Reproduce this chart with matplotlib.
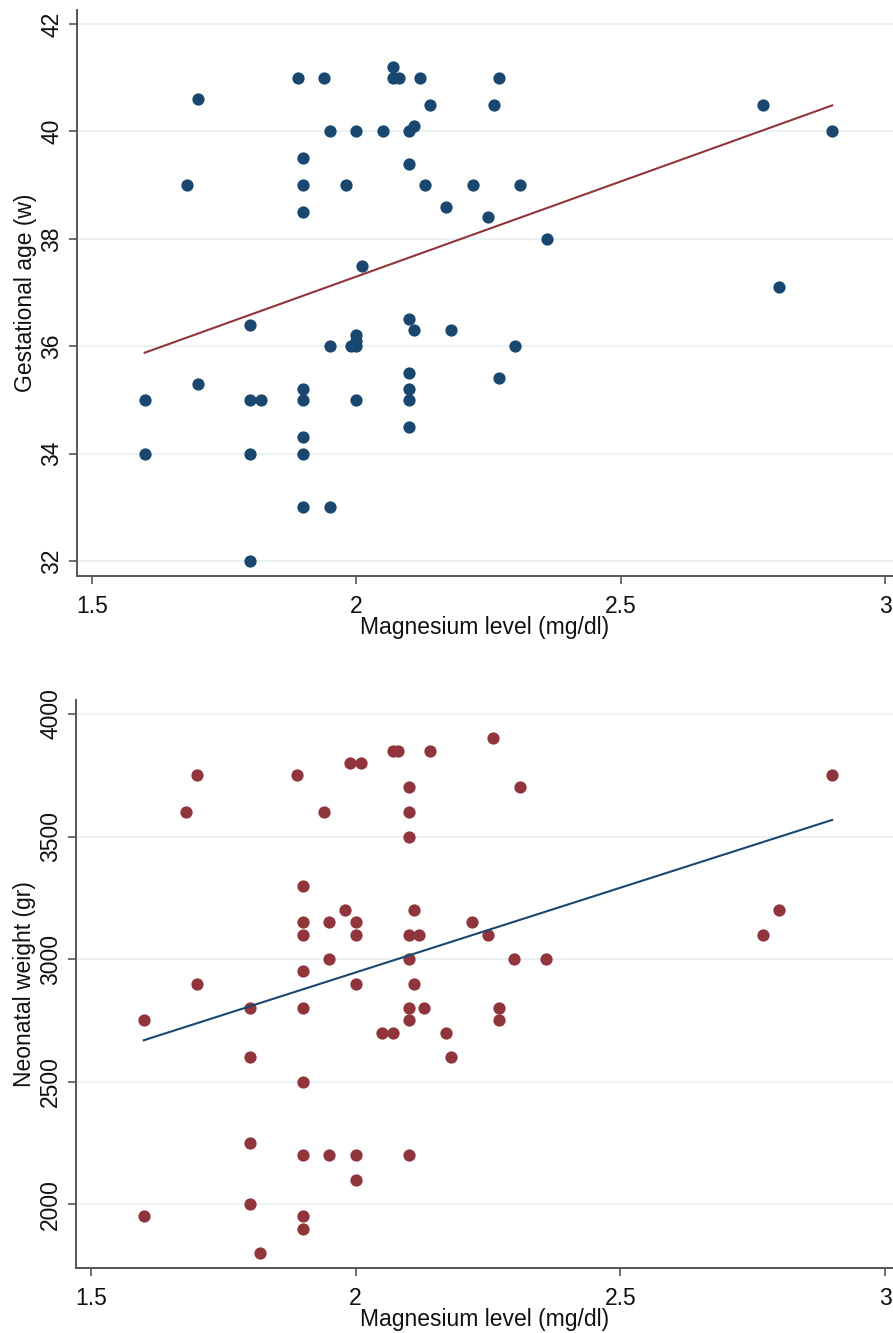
import numpy as np
import matplotlib
matplotlib.use("Agg")
import matplotlib.pyplot as plt

plt.rcParams['font.family'] = ['Liberation Sans', 'DejaVu Sans']

# Top panel: magnesium vs gestational age
mg_top = [1.60, 1.60, 1.68, 1.70, 1.70, 1.80, 1.80, 1.82, 1.80, 1.80,
          1.89, 1.90, 1.90, 1.90, 1.90, 1.90, 1.90, 1.90, 1.90, 1.94,
          1.95, 1.95, 1.95, 1.98, 1.99, 2.00, 2.00, 2.00, 2.00, 2.00,
          2.01, 2.05, 2.07, 2.07, 2.08, 2.10, 2.11, 2.10, 2.10, 2.10,
          2.10, 2.10, 2.10, 2.11, 2.12, 2.13, 2.14, 2.17, 2.18, 2.22,
          2.25, 2.26, 2.27, 2.27, 2.30, 2.31, 2.36, 2.77, 2.80, 2.90]
ga_top = [35.0, 34.0, 39.0, 40.6, 35.3, 36.4, 35.0, 35.0, 34.0, 32.0,
          41.0, 39.5, 39.0, 38.5, 35.2, 35.0, 34.3, 34.0, 33.0, 41.0,
          40.0, 36.0, 33.0, 39.0, 36.0, 36.0, 36.1, 36.2, 40.0, 35.0,
          37.5, 40.0, 41.2, 41.0, 41.0, 40.0, 40.1, 39.4, 36.5, 35.5,
          35.2, 35.0, 34.5, 36.3, 41.0, 39.0, 40.5, 38.6, 36.3, 39.0,
          38.4, 40.5, 41.0, 35.4, 36.0, 39.0, 38.0, 40.5, 37.1, 40.0]

# Bottom panel: magnesium vs neonatal weight
mg_bot = [1.60, 1.60, 1.68, 1.70, 1.70, 1.80, 1.80, 1.80, 1.80, 1.82,
          1.89, 1.90, 1.90, 1.90, 1.90, 1.90, 1.90, 1.90, 1.90, 1.90,
          1.94, 1.95, 1.95, 1.95, 1.98, 1.99, 2.01, 2.00, 2.00, 2.00,
          2.00, 2.00, 2.05, 2.07, 2.07, 2.08, 2.14, 2.10, 2.10, 2.10,
          2.11, 2.10, 2.12, 2.10, 2.11, 2.10, 2.13, 2.10, 2.10, 2.17,
          2.18, 2.22, 2.25, 2.26, 2.27, 2.27, 2.30, 2.31, 2.36, 2.77,
          2.80, 2.90]
wt_bot = [2750, 1950, 3600, 3750, 2900, 2800, 2600, 2250, 2000, 1800,
          3750, 3300, 3150, 3100, 2950, 2800, 2500, 2200, 1950, 1900,
          3600, 3150, 3000, 2200, 3200, 3800, 3800, 3150, 3100, 2900,
          2200, 2100, 2700, 2700, 3850, 3850, 3850, 3700, 3600, 3500,
          3200, 3100, 3100, 3000, 2900, 2800, 2800, 2750, 2200, 2700,
          2600, 3150, 3100, 3900, 2800, 2750, 3000, 3700, 3000, 3100,
          3200, 3750]

x_ticks = [1.5, 2, 2.5, 3]
x_tick_labels = ["1.5", "2", "2.5", "3"]
top_yticks = [32, 34, 36, 38, 40, 42]
bot_yticks = [2000, 2500, 3000, 3500, 4000]

NAVY = "#1a476f"
MAROON = "#90353b"
GRID = "#eaf2f3"
AXC = "#555555"

fig = plt.figure(figsize=(8.93, 13.33), dpi=100)
ax1 = fig.add_axes([0.0862, 0.5679, 0.9138, 0.4246])
ax2 = fig.add_axes([0.0851, 0.0488, 0.9150, 0.4261])


def style(ax, yticks, ylim, ylabel, pt_color, ln_color, xs, ys):
    ax.set_xlim(1.472, 3.015)
    ax.set_ylim(*ylim)
    ax.set_yticks(yticks)
    ax.set_yticklabels([str(v) for v in yticks], rotation=90, va='center')
    ax.set_xticks(x_ticks)
    ax.set_xticklabels(x_tick_labels)
    ax.grid(axis='y', color=GRID, linewidth=1.5, zorder=0)
    ax.set_axisbelow(True)
    for s in ['top', 'right']:
        ax.spines[s].set_visible(False)
    for s in ['left', 'bottom']:
        ax.spines[s].set_color(AXC)
        ax.spines[s].set_linewidth(1.4)
    ax.tick_params(axis='both', direction='out', length=6, width=1.2,
                   color=AXC, labelsize=16.5, labelcolor='#111111')
    ax.tick_params(axis='y', pad=4)
    ax.tick_params(axis='x', pad=8)
    ax.set_xlabel("Magnesium level (mg/dl)", fontsize=16.5, color='#111111', labelpad=-2)
    ax.set_ylabel(ylabel, fontsize=16.5, color='#111111', labelpad=2)
    x = np.asarray(xs)
    y = np.asarray(ys)
    ax.scatter(x, y, s=78, color=pt_color, linewidths=0, zorder=3)
    b, a = np.polyfit(x, y, 1)
    xl = np.array([x.min(), x.max()])
    ax.plot(xl, a + b * xl, color=ln_color, linewidth=1.5, zorder=4)


style(ax1, top_yticks, (31.72, 42.26), "Gestational age (w)", NAVY, MAROON, mg_top, ga_top)
style(ax2, bot_yticks, (1740, 4057), "Neonatal weight (gr)", MAROON, NAVY, mg_bot, wt_bot)

fig.savefig("out.png", dpi=100, facecolor='white')
